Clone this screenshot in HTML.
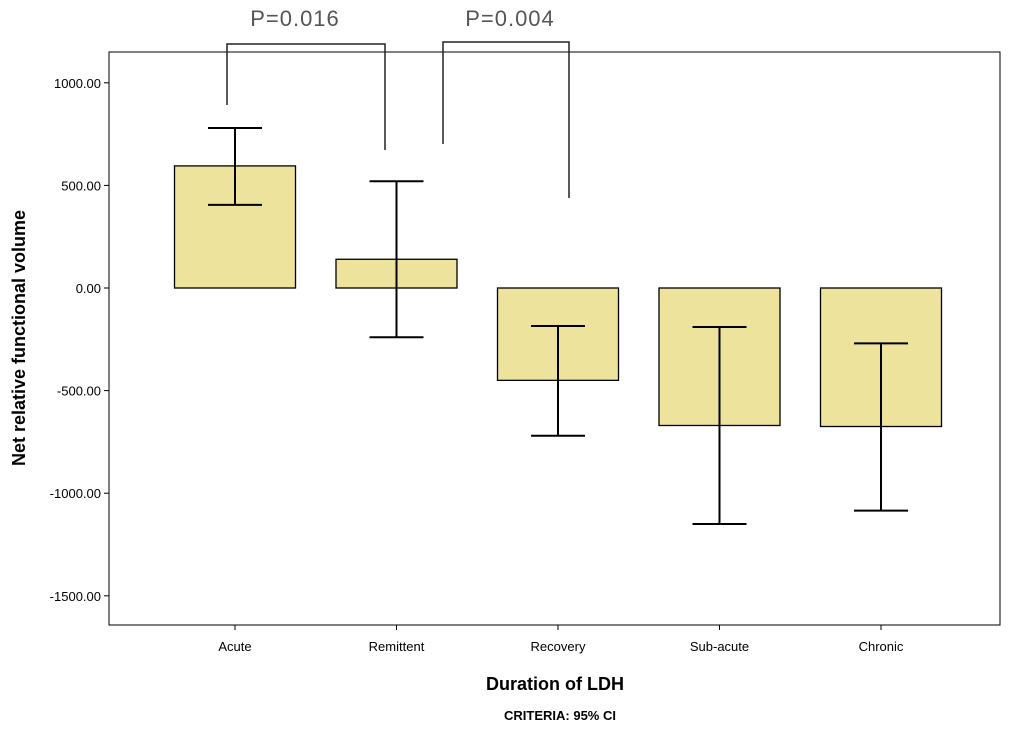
<!DOCTYPE html>
<html><head><meta charset="utf-8"><style>
body{margin:0;background:#fff;}
svg{display:block;font-family:"Liberation Sans",Arial,sans-serif;}
</style></head><body>
<svg id="chart" width="1033" height="736" viewBox="0 0 1033 736"></svg>
<script>
const categories=["Acute","Remittent","Recovery","Sub-acute","Chronic"];
const means=[595,140,-450,-670,-675];
const ciUpper=[780,520,-185,-190,-270];
const ciLower=[405,-240,-720,-1150,-1085];
const yTicks=[1000,500,0,-500,-1000,-1500];
const yTickLabels=["1000.00","500.00","0.00","-500.00","-1000.00","-1500.00"];

const NS="http://www.w3.org/2000/svg";
const svg=document.getElementById('chart');
const L=109,R=1000,T=52,B=625;
function y(v){return 288-v*(102.6/500);}
function x(i){return 235+i*161.5;}
function el(tag,attrs,parent){const e=document.createElementNS(NS,tag);for(const k in attrs)e.setAttribute(k,attrs[k]);(parent||svg).appendChild(e);return e;}

const frame=el('rect',{x:L,y:T,width:R-L,height:B-T,fill:'#fff',stroke:'#000','stroke-width':1});



yTicks.forEach((t,i)=>{
  const tk=el('line',{x1:L-5,x2:L,y1:y(t),y2:y(t),stroke:'#000'});
  
  
  const tx=el('text',{x:L-8,y:y(t)+5,'text-anchor':'end','font-size':13});
  tx.textContent=yTickLabels[i];
  
  
});

categories.forEach((c,i)=>{
  const cx=x(i),w=121;
  const top=Math.min(y(0),y(means[i])),h=Math.abs(y(means[i])-y(0));
  const b=el('rect',{x:cx-w/2,y:top,width:w,height:h,fill:'#ede39c',stroke:'#000','stroke-width':1.3});
  
  
  const g=el('g',{stroke:'#000','stroke-width':2});
  
  
  el('line',{x1:cx,x2:cx,y1:y(ciUpper[i]),y2:y(ciLower[i])},g);
  el('line',{x1:cx-27,x2:cx+27,y1:y(ciUpper[i]),y2:y(ciUpper[i])},g);
  el('line',{x1:cx-27,x2:cx+27,y1:y(ciLower[i]),y2:y(ciLower[i])},g);
  const tk=el('line',{x1:cx,x2:cx,y1:B,y2:B+5,stroke:'#000'});
  
  
  const tx=el('text',{x:cx,y:651,'text-anchor':'middle','font-size':13});
  tx.textContent=c;
  
  
});

const xt=el('text',{x:555,y:690,'text-anchor':'middle','font-size':18,'font-weight':'bold'});
xt.textContent='Duration of LDH';


const cr=el('text',{x:560,y:720,'text-anchor':'middle','font-size':13,'font-weight':'bold'});
cr.textContent='CRITERIA: 95% CI';


const yt=el('text',{x:0,y:0,'text-anchor':'middle','font-size':18,'font-weight':'bold',transform:'translate(25,338) rotate(-90)'});
yt.textContent='Net relative functional volume';



function bracket(x1,x2,yb,y1,y2,label,lx,name){
  const g=el('g',{stroke:'#222','stroke-width':1.5,fill:'none'});
  
  
  el('polyline',{points:`${x1},${y1} ${x1},${yb} ${x2},${yb} ${x2},${y2}`},g);
  const t=el('text',{x:lx,y:26,'text-anchor':'middle','font-size':22,fill:'#555','letter-spacing':1});
  t.textContent=label;
  
  
}
bracket(227,385,44,105,150,'P=0.016',295,'significance-bracket-1');
bracket(443,569,42,144,198,'P=0.004',510,'significance-bracket-2');
</script>
</body></html>
